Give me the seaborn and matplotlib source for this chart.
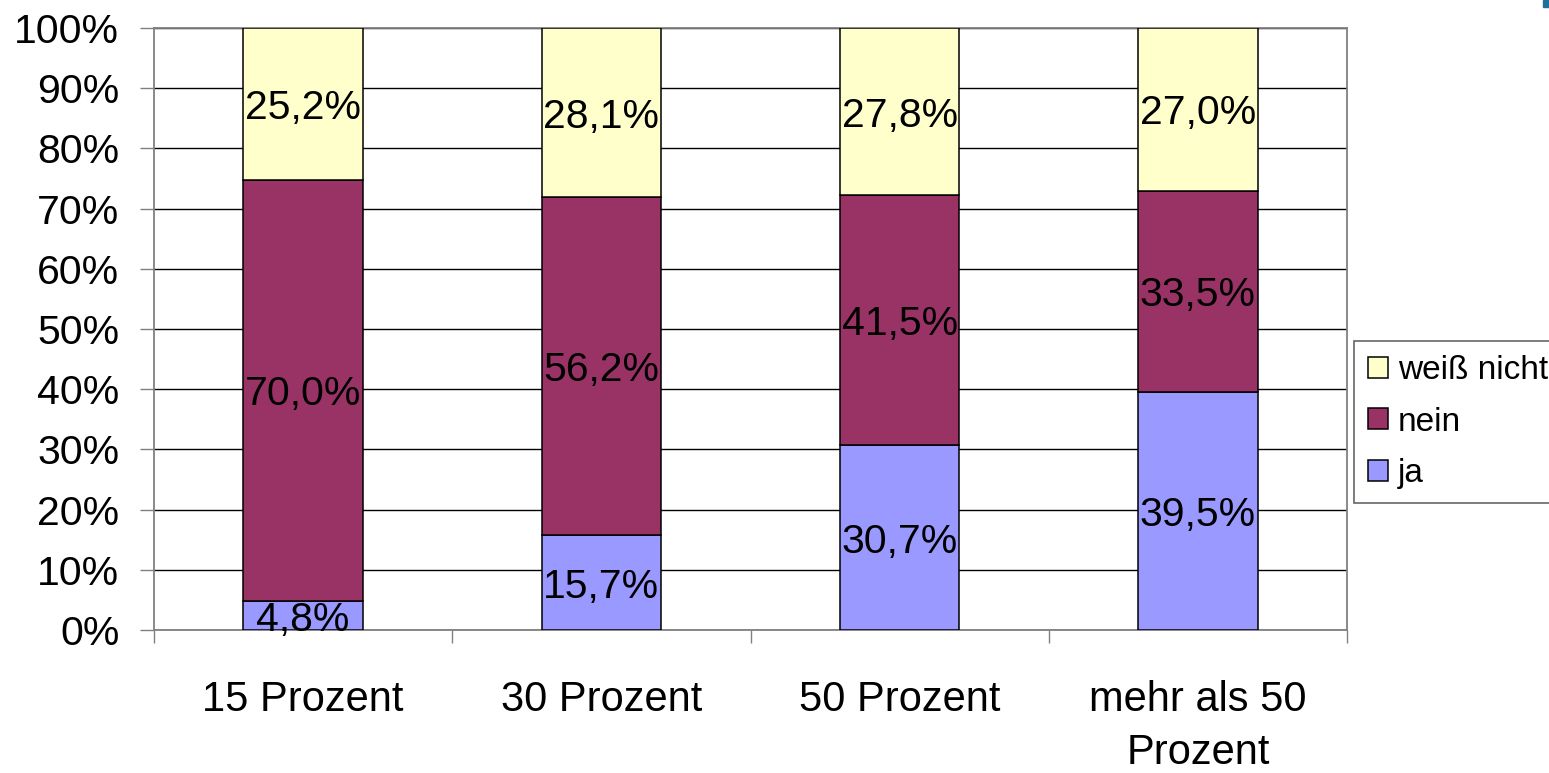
import matplotlib
matplotlib.use("Agg")
import matplotlib.pyplot as plt
from matplotlib.patches import Patch, Rectangle
from matplotlib.ticker import FixedLocator
import numpy as np
import seaborn as sns

# Survey answers per threshold, in percent
categories = ["15 Prozent", "30 Prozent", "50 Prozent", "mehr als 50\nProzent"]
ja = [4.8, 15.7, 30.7, 39.5]
nein = [70.0, 56.2, 41.5, 33.5]
weiss_nicht = [25.2, 28.1, 27.8, 27.0]
series_names = ["ja", "nein", "weiß nicht"]
series_colors = ["#9999FF", "#993366", "#FFFFCC"]
y_ticks = [0, 10, 20, 30, 40, 50, 60, 70, 80, 90, 100]

sns.set_theme(style="white")
plt.rcParams["font.family"] = ["Liberation Sans", "DejaVu Sans"]
plt.rcParams["text.color"] = "black"
plt.rcParams["xtick.color"] = "black"
plt.rcParams["ytick.color"] = "black"
plt.rcParams["xtick.labelcolor"] = "black"
plt.rcParams["ytick.labelcolor"] = "black"

fig = plt.figure(figsize=(15.49, 7.73), dpi=100)
ax = fig.add_axes([154 / 1549, 1 - 630 / 773, (1347 - 154) / 1549, (630 - 28) / 773])

FS = 29.5
bottom = np.zeros(len(categories))
for name, vals, col in zip(series_names, [ja, nein, weiss_nicht], series_colors):
    vals = np.asarray(vals, dtype=float)
    sns.barplot(x=categories, y=vals, bottom=bottom, color=col, saturation=1,
                width=0.4, edgecolor="black", linewidth=1.1, ax=ax, zorder=3)
    for i, v in enumerate(vals):
        ax.text(i, bottom[i] + v / 2, f"{v:.1f}%".replace(".", ","),
                ha="center", va="center_baseline", fontsize=FS, color="black", zorder=5)
    bottom = bottom + vals

ax.set_xlim(-0.5, len(categories) - 0.5)
ax.set_ylim(0, 100)
ax.set_yticks(y_ticks)
ax.set_yticklabels([f"{t}%" for t in y_ticks], fontsize=FS, color="black")
ax.yaxis.grid(True, color="black", linewidth=1.0, zorder=0)
ax.set_axisbelow(True)
ax.set_xlabel("")
ax.set_ylabel("")

ax.set_xticks(range(len(categories)))
ax.set_xticklabels(categories, fontsize=30, linespacing=1.42, color="black")
ax.xaxis.set_minor_locator(FixedLocator(np.arange(-0.5, len(categories), 1.0)))
ax.tick_params(axis="x", which="major", length=0, pad=36)
ax.tick_params(axis="x", which="minor", length=9.5, width=1.0, color="#808080", bottom=True)
ax.tick_params(axis="y", which="major", length=10, width=1.0, color="#808080", pad=15, left=True)

for side in ["left", "bottom", "top", "right"]:
    ax.spines[side].set_visible(True)
    ax.spines[side].set_color("#808080")
    ax.spines[side].set_linewidth(1.3)

handles = [Patch(facecolor=c, edgecolor="black", linewidth=1.1, label=n)
           for n, c in zip(series_names, series_colors)][::-1]
leg = fig.legend(handles=handles, loc="upper left",
                 bbox_to_anchor=(1354 / 1549, 1 - 341 / 773),
                 fontsize=24, frameon=True, fancybox=False, edgecolor="#404040",
                 handlelength=0.6, handleheight=0.6, handletextpad=0.3,
                 labelspacing=0.62, borderpad=0.42, borderaxespad=0)
leg.get_frame().set_linewidth(1.2)
for t in leg.get_texts():
    t.set_color("black")

fig.patches.append(Rectangle((1543 / 1549, 1 - 7 / 773), 6 / 1549, 7 / 773,
                             transform=fig.transFigure, color="#1f6f9a"))

fig.savefig("out.png", dpi=100)
